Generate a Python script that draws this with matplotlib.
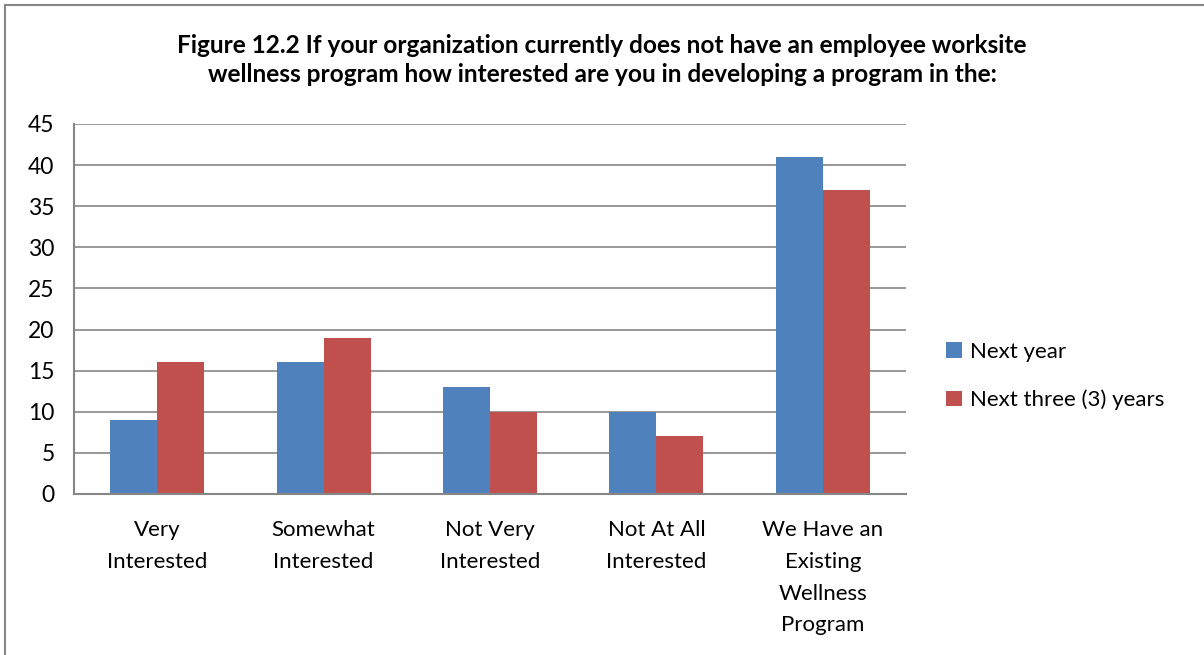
import matplotlib

matplotlib.use("Agg")
import matplotlib.pyplot as plt
import numpy as np
from matplotlib.patches import Rectangle

categories = ["Very\nInterested", "Somewhat\nInterested", "Not Very\nInterested",
              "Not At All\nInterested", "We Have an\nExisting\nWellness\nProgram"]
next_year = [9, 16, 13, 10, 41]
next_three_years = [16, 19, 10, 7, 37]
series_labels = ["Next year", "Next three (3) years"]
title = ("Figure 12.2 If your organization currently does not have an employee worksite\n"
         "wellness program how interested are you in developing a program in the:")

BLUE = "#4F81BD"
RED = "#C0504D"
GRID = "#868686"

plt.rcParams["font.family"] = ["Lato", "DejaVu Sans"]

fig = plt.figure(figsize=(12.04, 6.55), dpi=100)
fig.patches.append(Rectangle((5 / 1204, -0.01), 1.02, 1 - 5 / 655 + 0.01,
                             transform=fig.transFigure, fill=False,
                             edgecolor="#878787", linewidth=1.5))

ax = fig.add_axes([74 / 1204, 1 - 494 / 655, (906 - 74) / 1204, (494 - 124) / 655])

x = np.arange(len(categories))
width = 0.283
ax.bar(x - width / 2, next_year, width, color=BLUE, label=series_labels[0], zorder=2)
ax.bar(x + width / 2, next_three_years, width, color=RED, label=series_labels[1], zorder=2)

ax.set_xlim(-0.5, len(categories) - 0.5)
ax.set_ylim(0, 45)
ax.set_yticks(range(0, 46, 5))
ax.yaxis.grid(True, color=GRID, linewidth=1.2)
ax.set_axisbelow(True)
for s in ["top", "right"]:
    ax.spines[s].set_visible(False)
for s in ["left", "bottom"]:
    ax.spines[s].set_color(GRID)
    ax.spines[s].set_linewidth(1.5)
ax.set_xticks(x)
ax.set_xticklabels(categories, fontsize=16, linespacing=1.73)
ax.tick_params(axis="x", length=0, pad=19)
ax.tick_params(axis="y", length=0, labelsize=16.5, pad=14)

fig.text(0.5, 1 - 60 / 655, title, ha="center", va="center", fontsize=17.6,
         fontweight="bold", linespacing=1.3)

fig.legend(loc="center left", bbox_to_anchor=(926 / 1204, 1 - 376 / 655), frameon=False,
           fontsize=16, handlelength=0.7, handleheight=0.7, handletextpad=0.4,
           labelspacing=1.25)

fig.savefig("out.png", dpi=100)
